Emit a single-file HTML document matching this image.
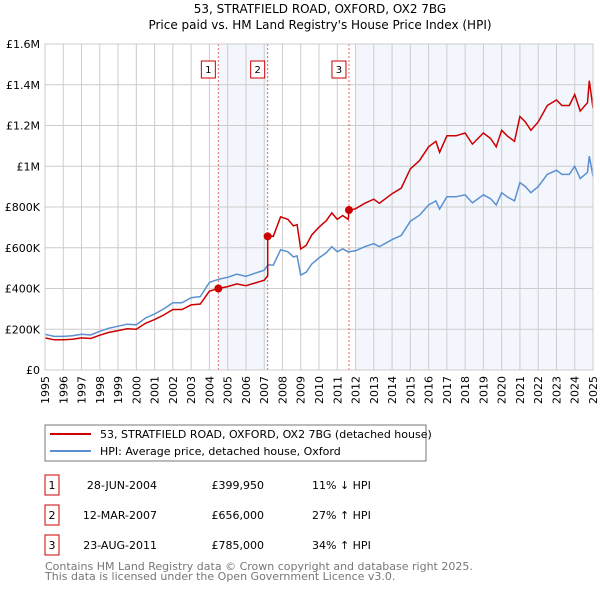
<!DOCTYPE html>
<html><head><meta charset="utf-8"><style>
body{margin:0;background:#fff;font-family:"DejaVu Sans","Liberation Sans",sans-serif}
svg{display:block}
</style></head><body>
<svg width="600" height="590" viewBox="0 0 600 590" id="c" font-family="DejaVu Sans, Liberation Sans, sans-serif">
<text x="320" y="13" text-anchor="middle" font-size="12">53, STRATFIELD ROAD, OXFORD, OX2 7BG</text>
<text x="320" y="29" text-anchor="middle" font-size="12">Price paid vs. HM Land Registry's House Price Index (HPI)</text>
<g id="plot"></g>
<rect x="45" y="425" width="381" height="36" fill="#fff" stroke="#777"/>
<line x1="50" y1="434" x2="91" y2="434" stroke="#cc0000" stroke-width="2"/>
<text x="100" y="438" font-size="11">53, STRATFIELD ROAD, OXFORD, OX2 7BG (detached house)</text>
<line x1="50" y1="451" x2="91" y2="451" stroke="#5b8fd0" stroke-width="2"/>
<text x="100" y="455" font-size="11">HPI: Average price, detached house, Oxford</text>
<g id="table" font-size="11"></g>
<text x="45" y="570" font-size="11" fill="#777">Contains HM Land Registry data © Crown copyright and database right 2025.</text>
<text x="45" y="580" font-size="11" fill="#777">This data is licensed under the Open Government Licence v3.0.</text>
</svg>
<script>
const hpiYears=[1995,1995.5,1996,1996.5,1997,1997.5,1998,1998.5,1999,1999.5,2000,2000.5,2001,2001.5,2002,2002.5,2003,2003.5,2004,2004.5,2005,2005.5,2006,2006.5,2007,2007.2,2007.5,2007.9,2008.3,2008.6,2008.8,2009,2009.3,2009.6,2010,2010.4,2010.7,2011,2011.3,2011.6,2012,2012.5,2013,2013.3,2014,2014.5,2015,2015.5,2016,2016.4,2016.6,2017,2017.5,2018,2018.4,2019,2019.4,2019.7,2020,2020.3,2020.7,2021,2021.3,2021.6,2022,2022.5,2023,2023.3,2023.7,2024,2024.3,2024.7,2024.8,2025];
const hpiValues=[175,165,165,168,175,172,190,205,215,225,222,255,275,300,330,330,355,360,430,445,455,470,460,475,490,516,515,590,580,555,560,466,480,520,550,575,605,580,595,580,585,605,620,605,640,660,730,760,810,830,790,850,850,860,820,860,840,810,870,850,830,920,900,870,900,960,980,960,960,1000,940,970,1050,950];
const saleLabels=["1","2","3"];
const saleYears=[2004.49,2007.19,2011.64];
const salePrices=[399950,656000,785000];
const saleDates=["28-JUN-2004","12-MAR-2007","23-AUG-2011"];
const salePriceText=["£399,950","£656,000","£785,000"];
const saleHpiText=["11% ↓ HPI","27% ↑ HPI","34% ↑ HPI"];
const yTicks=[0,200000,400000,600000,800000,1000000,1200000,1400000,1600000];
const yTickLabels=["£0","£200K","£400K","£600K","£800K","£1M","£1.2M","£1.4M","£1.6M"];
const xTicks=[1995,1996,1997,1998,1999,2000,2001,2002,2003,2004,2005,2006,2007,2008,2009,2010,2011,2012,2013,2014,2015,2016,2017,2018,2019,2020,2021,2022,2023,2024,2025];

const NS="http://www.w3.org/2000/svg";
const X0=45,X1=593,Y0=370,Y1=44;
const x=y=>X0+(y-1995)/30*(X1-X0);
const yv=v=>Y0-v/1600000*(Y0-Y1);
function mk(tag,attrs,parent){const e=document.createElementNS(NS,tag);for(const k in attrs)e.setAttribute(k,attrs[k]);parent.appendChild(e);return e;}
const plot=document.getElementById('plot');
function hpiAt(t){for(let i=1;i<hpiYears.length;i++){if(t<=hpiYears[i]){const f=(t-hpiYears[i-1])/(hpiYears[i]-hpiYears[i-1]);return (hpiValues[i-1]+f*(hpiValues[i]-hpiValues[i-1]))*1000;}}return hpiValues[hpiValues.length-1]*1000;}
// shading
let s=mk('rect',{x:x(saleYears[0]),y:Y1,width:x(saleYears[1])-x(saleYears[0]),height:Y0-Y1,fill:'#eef3fc',opacity:0.7},plot);


s=mk('rect',{x:x(2012),y:Y1,width:X1-x(2012),height:Y0-Y1,fill:'#eef3fc',opacity:0.7},plot);


// grid
yTicks.forEach((v,i)=>{const g=mk('line',{x1:X0,x2:X1,y1:yv(v),y2:yv(v),stroke:'#ccc'},plot);


const t=mk('text',{x:40,y:yv(v)+4,'text-anchor':'end','font-size':11},plot);t.textContent=yTickLabels[i];

});
xTicks.forEach(yr=>{const g=mk('line',{x1:x(yr),x2:x(yr),y1:Y1,y2:Y0,stroke:'#ccc'},plot);


const t=mk('text',{x:0,y:0,'text-anchor':'end','font-size':11,transform:`translate(${x(yr)+4},${Y0+6}) rotate(-90)`},plot);t.textContent=yr;

});
// sale lines and markers
saleYears.forEach((yr,i)=>{const l=mk('line',{x1:x(yr),x2:x(yr),y1:Y1,y2:Y0,stroke:'#e66',"stroke-dasharray":'2,2'},plot);


const r=mk('rect',{x:x(yr)-17,y:61,width:14,height:17,fill:'#fff',stroke:'#cc0000'},plot);


const t=mk('text',{x:x(yr)-10,y:73,'text-anchor':'middle','font-size':10},plot);t.textContent=saleLabels[i];

});
// hpi line
const hp=hpiYears.map((t,i)=>x(t).toFixed(1)+','+yv(hpiValues[i]*1000).toFixed(1)).join(' ');
const h=mk('polyline',{points:hp,fill:'none',stroke:'#5b8fd0','stroke-width':1.5},plot);


// property line: indexed to HPI from each sale
const ratios=saleYears.map((t,i)=>salePrices[i]/hpiAt(t));
const pts=[];
hpiYears.forEach((t,i)=>{let k=0;for(let j=0;j<saleYears.length;j++)if(t>=saleYears[j])k=j;
if(t>saleYears[1]&&pts.length&&!pts.done1){pts.push([x(saleYears[1]),yv(ratios[0]*hpiAt(saleYears[1]))]);pts.push([x(saleYears[1]),yv(salePrices[1])]);pts.done1=1;}
if(t>saleYears[2]&&!pts.done2){pts.push([x(saleYears[2]),yv(salePrices[2])]);pts.done2=1;}
pts.push([x(t),yv(hpiValues[i]*1000*ratios[k])]);});
const p=mk('polyline',{points:pts.map(q=>q[0].toFixed(1)+','+q[1].toFixed(1)).join(' '),fill:'none',stroke:'#cc0000','stroke-width':1.5},plot);


saleYears.forEach((t,i)=>{const c=mk('circle',{cx:x(t),cy:yv(salePrices[i]),r:4,fill:'#cc0000'},plot);

});
mk('rect',{x:X0,y:Y1,width:X1-X0,height:Y0-Y1,fill:'none',stroke:'#ccc'},plot);
// table
const tb=document.getElementById('table');
saleLabels.forEach((lab,i)=>{const yy=475+i*30;
const r=mk('rect',{x:45,y:yy,width:14,height:20,fill:'#fff',stroke:'#cc0000'},tb);


let t=mk('text',{x:52,y:yy+14,'text-anchor':'middle'},tb);t.textContent=lab;


t=mk('text',{x:157,y:yy+14,'text-anchor':'end'},tb);t.textContent=saleDates[i];


t=mk('text',{x:264,y:yy+14,'text-anchor':'end'},tb);t.textContent=salePriceText[i];


t=mk('text',{x:312,y:yy+14},tb);t.textContent=saleHpiText[i];

});
</script>
</body></html>
